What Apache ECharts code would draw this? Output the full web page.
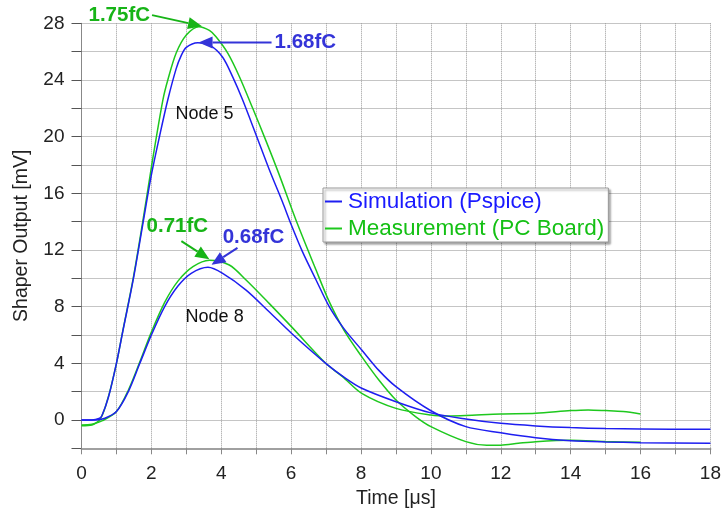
<!DOCTYPE html>
<html>
<head>
<meta charset="utf-8">
<script src="https://cdn.jsdelivr.net/npm/echarts@6/dist/echarts.min.js"></script>
<style>
html,body{margin:0;padding:0;background:#fff;}
#chart{width:724px;height:516px;}
</style>
</head>
<body>
<div id="chart"></div>
<script>
// ---- data ----
const xTicks = [0, 2, 4, 6, 8, 10, 12, 14, 16, 18];
const yTicks = [0, 4, 8, 12, 16, 20, 24, 28];

// Node 5, simulation (Pspice)
const node5SimTime = [0, 0.3, 0.5, 0.58, 0.77, 1.0, 1.19, 1.48, 1.76, 2.0, 2.24, 2.47, 2.71, 2.85, 3.0, 3.33, 3.7, 4.04, 4.33, 4.61, 5.0, 5.37, 5.75, 6.0, 6.32, 6.71, 7.09, 7.51, 8.02, 8.51, 9.0, 10.0, 11.0, 12.0, 13.0, 14.0, 15.0, 16.0, 18.0];
const node5SimValue = [0, 0, 0.1, 0.28, 1.6, 4.0, 6.35, 9.9, 13.9, 17.3, 20.1, 22.6, 24.8, 25.7, 26.3, 26.63, 26.4, 25.6, 24.2, 22.6, 20.1, 17.7, 15.4, 13.8, 11.9, 9.9, 8.0, 6.45, 4.94, 3.5, 2.35, 0.65, -0.47, -0.9, -1.25, -1.46, -1.55, -1.6, -1.65];

// Node 5, measurement (PC board)
const node5MeasTime = [0, 0.3, 0.55, 0.77, 1.0, 1.19, 1.48, 1.76, 2.05, 2.33, 2.47, 2.71, 3.0, 3.36, 3.66, 3.85, 4.19, 4.52, 4.9, 5.28, 5.66, 6.14, 6.71, 7.09, 7.51, 8.02, 8.51, 9.0, 9.56, 10.0, 11.0, 11.6, 12.0, 12.5, 13.0, 14.0, 15.0, 16.0];
const node5MeasValue = [-0.4, -0.35, 0.12, 1.65, 4.0, 6.4, 10.0, 14.1, 18.6, 22.6, 24.0, 25.9, 27.17, 27.76, 27.5, 27.05, 25.88, 24.23, 22.0, 19.7, 17.3, 14.1, 10.6, 8.35, 6.35, 4.47, 2.82, 1.41, 0.24, -0.47, -1.53, -1.78, -1.78, -1.65, -1.53, -1.43, -1.52, -1.58];

// Node 8, simulation (Pspice)
const node8SimTime = [0, 0.4, 0.67, 1.0, 1.34, 1.67, 2.0, 2.38, 2.76, 3.14, 3.62, 4.04, 4.71, 5.37, 6.04, 6.99, 7.56, 8.02, 9.0, 10.0, 11.0, 12.0, 13.0, 14.0, 15.0, 16.0, 18.0];
const node8SimValue = [0, 0, 0.12, 0.59, 2.0, 4.0, 6.0, 8.0, 9.45, 10.35, 10.78, 10.35, 9.17, 7.64, 6.05, 4.0, 2.94, 2.24, 1.29, 0.5, 0.07, -0.24, -0.42, -0.54, -0.61, -0.64, -0.66];

// Node 8, measurement (PC board)
const node8MeasTime = [0, 0.3, 0.6, 1.0, 1.34, 1.67, 2.0, 2.38, 2.76, 3.19, 3.66, 4.23, 4.71, 5.37, 6.04, 6.99, 7.47, 8.02, 9.0, 10.0, 10.5, 11.0, 12.0, 13.0, 14.0, 14.5, 15.0, 15.5, 16.0];
const node8MeasValue = [-0.35, -0.3, -0.05, 0.6, 2.1, 4.1, 6.2, 8.3, 9.8, 10.82, 11.28, 10.94, 9.88, 8.23, 6.5, 4.0, 3.06, 1.88, 0.82, 0.35, 0.28, 0.31, 0.42, 0.47, 0.66, 0.71, 0.66, 0.59, 0.42];

// annotated peaks [time, value] and labels
const peakLabels = ['1.75fC', '1.68fC', '0.71fC', '0.68fC'];
const peakPoints = [[3.45, 27.8], [3.35, 26.65], [3.66, 11.35], [3.72, 10.95]];
const nodeLabels = ['Node 5', 'Node 8'];
const nodeLabelPoints = [[3.52, 21.6], [3.81, 7.3]];

const SIM = 'Simulation (Pspice)';
const MEAS = 'Measurement (PC Board)';
const BLUE = '#1e1ef0';
const GREEN = '#1ec81e';

function zip(t, v) { return t.map((x, i) => [x, v[i]]); }

const chart = echarts.init(document.getElementById('chart'), null, {renderer: 'canvas'});
const FONT = 'Liberation Sans, Arial, sans-serif';

function lineSeries(name, color, t, v) {
  return {
    name: name, type: 'line', data: zip(t, v), showSymbol: false, symbol: 'none',
    smooth: 0.3, clip: true,
    lineStyle: {color: color, width: 1.5}, itemStyle: {color: color}
  };
}

chart.setOption({
  animation: false,
  backgroundColor: '#fff',
  textStyle: {fontFamily: FONT},
  grid: {left: 81.5, right: 11.3, top: 23.3, bottom: 67.7, containLabel: false},
  legend: {
    orient: 'vertical', left: 323, top: 188,
    data: [{name: SIM, textStyle: {color: '#1a1aff'}}, {name: MEAS, textStyle: {color: '#14c014'}}],
    icon: 'rect', itemWidth: 17, itemHeight: 2, itemGap: 4,
    padding: [2, 4, 2, 2],
    textStyle: {fontSize: 22.5, fontFamily: FONT, padding: [0, 0, 0, 1]},
    backgroundColor: '#fff', borderColor: '#999', borderWidth: 1,
    shadowColor: 'rgba(0,0,0,0.35)', shadowBlur: 2, shadowOffsetX: 2, shadowOffsetY: 2
  },
  xAxis: {
    type: 'value', min: 0, max: 18, interval: 1,
    name: 'Time [\u03bcs]', nameLocation: 'middle', nameGap: 36,
    nameTextStyle: {fontSize: 19.5, color: '#222', fontFamily: FONT},
    axisLine: {show: true, onZero: false, lineStyle: {color: '#a0a0a0', width: 2}},
    axisTick: {show: true, length: 6, lineStyle: {color: '#888'}},
    axisLabel: {fontSize: 19, color: '#222', margin: 16,
      formatter: v => (xTicks.indexOf(v) >= 0 ? String(v) : '')},
    splitLine: {show: true, lineStyle: {color: '#9a9a9a', type: 'dotted', width: 1}}
  },
  yAxis: {
    type: 'value', min: -2, max: 28, interval: 2,
    name: 'Shaper Output [mV]', nameLocation: 'middle', nameGap: 50,
    nameTextStyle: {fontSize: 19.5, color: '#222', fontFamily: FONT},
    axisLine: {show: true, onZero: false, lineStyle: {color: '#888', width: 1}},
    axisTick: {show: true, length: 10, lineStyle: {color: '#555'}},
    axisLabel: {fontSize: 19, color: '#222', margin: 17,
      formatter: v => (yTicks.indexOf(v) >= 0 ? String(v) : '')},
    splitLine: {show: true, lineStyle: {color: '#8a8a8a', type: 'dotted', width: 1}}
  },
  series: [
    lineSeries(MEAS, GREEN, node5MeasTime, node5MeasValue),
    lineSeries(MEAS, GREEN, node8MeasTime, node8MeasValue),
    lineSeries(SIM, BLUE, node5SimTime, node5SimValue),
    lineSeries(SIM, BLUE, node8SimTime, node8SimValue)
  ]
});

// ---- annotations: arrows to the peaks, labels, node names ----
const annColors = ['#17b417', '#3434d8', '#17b417', '#3434d8'];
const tailOffsets = [[-50, -11], [73, 0], [-28, -18], [26, -17]];
const labelAlign = ['right', 'left', 'center', 'center'];
const labelOffsets = [[-2, 0], [3, 0], [-4, -15], [16, -10]];

const graphics = [];
peakPoints.forEach((p, i) => {
  const tip = chart.convertToPixel({gridIndex: 0}, p);
  const tail = [tip[0] + tailOffsets[i][0], tip[1] + tailOffsets[i][1]];
  const dx = tip[0] - tail[0], dy = tip[1] - tail[1];
  const len = Math.sqrt(dx * dx + dy * dy);
  const ux = dx / len, uy = dy / len;
  const headL = 14, headW = 6;
  const base = [tip[0] - ux * headL, tip[1] - uy * headL];
  graphics.push({
    type: 'line', silent: true, z: 100,
    shape: {x1: tail[0], y1: tail[1], x2: base[0], y2: base[1]},
    style: {stroke: annColors[i], lineWidth: 2}
  });
  graphics.push({
    type: 'polygon', silent: true, z: 100,
    shape: {points: [tip, [base[0] - uy * headW, base[1] + ux * headW], [base[0] + uy * headW, base[1] - ux * headW]]},
    style: {fill: annColors[i]}
  });
  graphics.push({
    type: 'text', silent: true, z: 101,
    x: tail[0] + labelOffsets[i][0], y: tail[1] + labelOffsets[i][1],
    style: {text: peakLabels[i], fill: annColors[i], font: 'bold 20.5px ' + FONT,
      align: labelAlign[i], verticalAlign: 'middle'}
  });
});
nodeLabels.forEach((s, i) => {
  const c = chart.convertToPixel({gridIndex: 0}, nodeLabelPoints[i]);
  graphics.push({
    type: 'text', silent: true, z: 101, x: c[0], y: c[1],
    style: {text: s, fill: '#111', font: '18px ' + FONT, align: 'center', verticalAlign: 'middle'}
  });
});
chart.setOption({graphic: graphics});
</script>
</body>
</html>
